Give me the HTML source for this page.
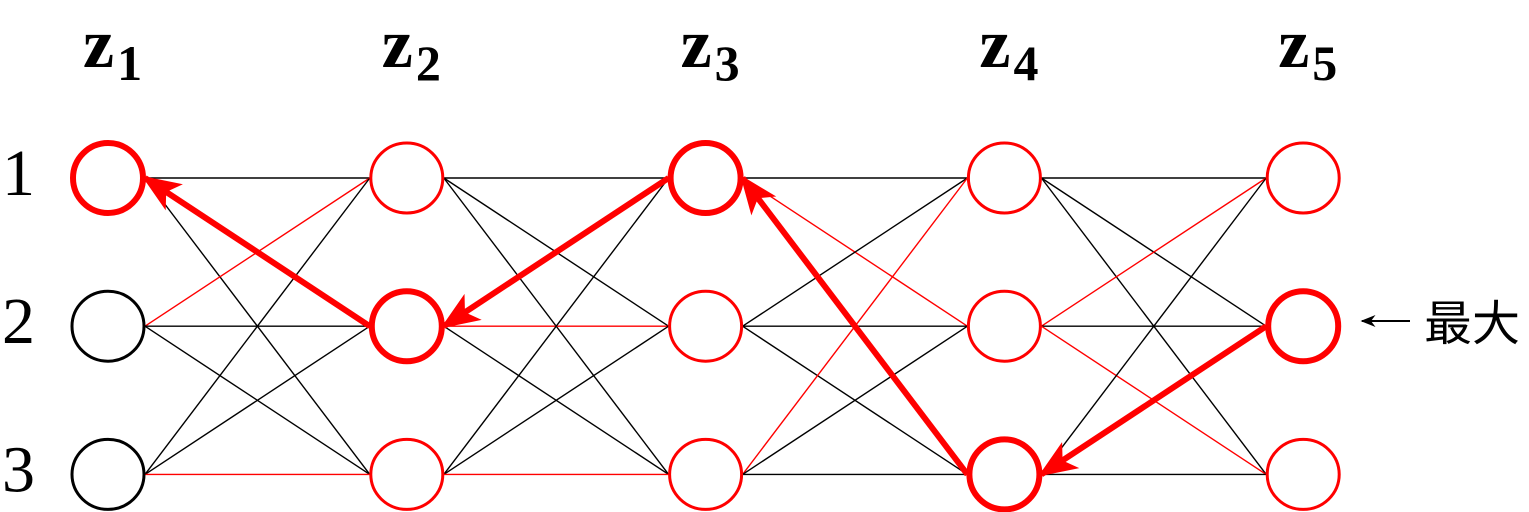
<!DOCTYPE html>
<html><head><meta charset="utf-8"><style>
html,body{margin:0;padding:0;background:#fff;width:1529px;height:512px;overflow:hidden}
svg{display:block}
</style></head><body>
<svg id="chart" width="1529" height="512" viewBox="0 0 1529 512" xmlns="http://www.w3.org/2000/svg">
<defs>
<marker id="ah" viewBox="0 0 20 16" refX="18" refY="8" markerWidth="6.5" markerHeight="5.5" orient="auto" markerUnits="strokeWidth"><path d="M0,0 L20,8 L0,16 L5,8 Z" fill="#ff0000"/></marker>
<marker id="ahk" viewBox="0 0 20 16" refX="18" refY="8" markerWidth="16" markerHeight="12" orient="auto" markerUnits="userSpaceOnUse"><path d="M0,0 L20,8 L0,16 L6,8 Z" fill="#000"/></marker>
</defs>
<g id="edges"></g><g id="paths"></g><g id="nodes"></g><g id="labels"></g>
</svg>
<script>
const columns=["1","2","3","4","5"];
const states=["1","2","3"];
// red (thin) transitions: [fromCol, fromState, toState]
const redEdges=[[0,1,0],[0,2,2],[1,1,1],[1,2,2],[2,0,1],[2,2,0],[3,1,0],[3,1,2]];
// best path states per column (backtracking arrows)
const bestPath=[0,1,0,2,1];
const boldNodes=[[0,0],[1,1],[2,0],[3,2],[4,1]];
const blackNodes=[[0,1],[0,2]];
const maxLabel="最大";

const NS="http://www.w3.org/2000/svg";
const cx=i=>108+i*298.8, cy=j=>178+j*148.2, RX=37, RY=36;
function mk(tag,attrs,parent){const e=document.createElementNS(NS,tag);for(const k in attrs)e.setAttribute(k,attrs[k]);document.getElementById(parent).appendChild(e);return e;}
const isRed=(c,a,b)=>redEdges.some(e=>e[0]===c&&e[1]===a&&e[2]===b);
for(let c=0;c<columns.length-1;c++)for(let a=0;a<states.length;a++)for(let b=0;b<states.length;b++){
  const r=isRed(c,a,b);
  const l=mk('line',{x1:cx(c)+RX,y1:cy(a),x2:cx(c+1)-RX,y2:cy(b),stroke:r?'#ff0000':'#000','stroke-width':1.4},'edges');
  
  
}
for(let c=1;c<bestPath.length;c++){
  const l=mk('line',{x1:cx(c)-RX,y1:cy(bestPath[c]),x2:cx(c-1)+RX,y2:cy(bestPath[c-1]),stroke:'#ff0000','stroke-width':6,'marker-end':'url(#ah)'},'paths');
  
  
}
for(let c=0;c<columns.length;c++)for(let j=0;j<states.length;j++){
  const bold=boldNodes.some(n=>n[0]===c&&n[1]===j), blk=blackNodes.some(n=>n[0]===c&&n[1]===j);
  const e=mk('ellipse',{cx:cx(c),cy:cy(j),rx:bold?35:RX-1,ry:bold?35:RY-1,fill:'#fff',stroke:blk?'#000':'#ff0000','stroke-width':bold?6:3},'nodes');
  
  
}
for(let c=0;c<columns.length;c++){
  const t=mk('text',{x:cx(c)-25,y:67,'font-family':'Liberation Serif, serif','font-weight':'bold','font-size':70,fill:'#000'},'labels');
  
  
  t.textContent='z';
  const s=document.createElementNS(NS,'tspan');s.setAttribute('font-size',50);s.setAttribute('dy',13);s.setAttribute('dx',3);s.textContent=columns[c];t.appendChild(s);
}
for(let j=0;j<states.length;j++){
  const t=mk('text',{x:2,y:cy(j)+17,'font-family':'Liberation Serif, serif','font-size':66,fill:'#000'},'labels');
  
  
  t.textContent=states[j];
}
const ar=mk('line',{x1:1410,y1:321,x2:1362,y2:321,stroke:'#000','stroke-width':2,'marker-end':'url(#ahk)'},'labels');


const mt=mk('text',{x:1424,y:340,'font-family':'Liberation Sans, Noto Sans CJK JP, sans-serif','font-size':48,fill:'#000'},'labels');


mt.textContent=maxLabel;
</script>
</body></html>
